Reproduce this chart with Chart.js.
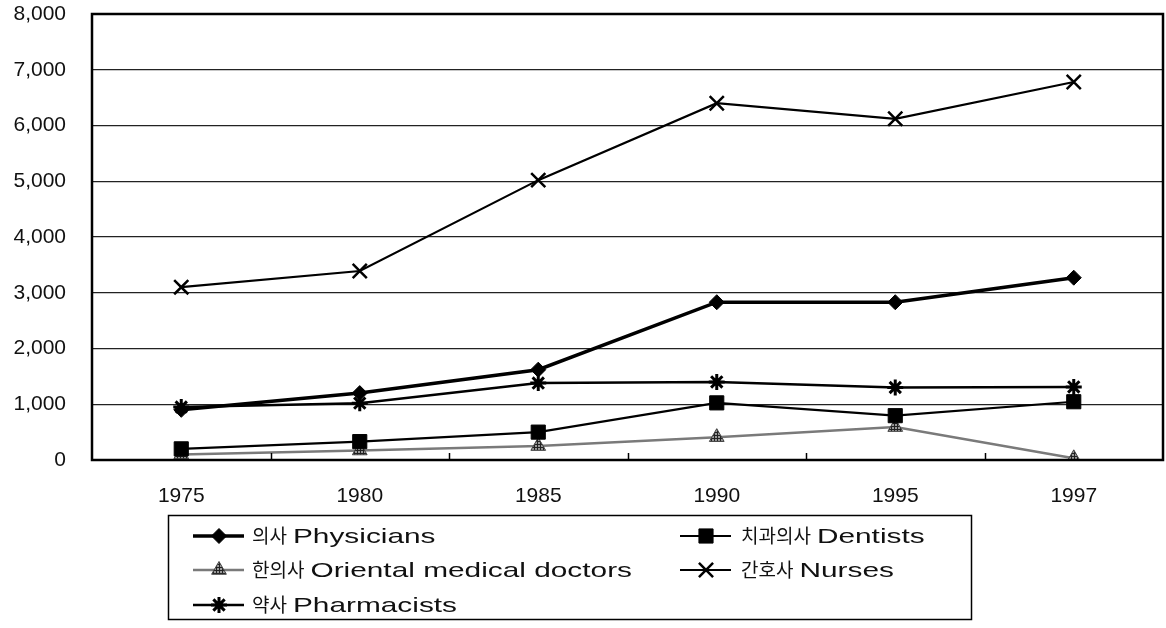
<!DOCTYPE html>
<html>
<head>
<meta charset="utf-8">
<script src="https://cdn.jsdelivr.net/npm/chart.js@4/dist/chart.umd.min.js"></script>
<style>
  html, body { margin: 0; padding: 0; background: #fff; overflow: hidden; }
  #wrap { width: 1166px; height: 628px; position: relative; }
  canvas { display: block; }
</style>
</head>
<body>
<div id="wrap"><canvas id="c" width="1166" height="628" style="width:1166px;height:628px"></canvas></div>
<script>
// ---- data ----
const years = ['1975', '1980', '1985', '1990', '1995', '1997'];
const physicians  = [900, 1200, 1620, 2830, 2830, 3270];
const dentists    = [200, 330, 500, 1025, 795, 1045];
const oriental    = [100, 170, 250, 410, 590, 30];
const nurses      = [3100, 3390, 5020, 6400, 6120, 6780];
const pharmacists = [950, 1020, 1380, 1400, 1300, 1310];
const seriesLabels = ['의사 Physicians', '치과의사 Dentists', '한의사 Oriental medical doctors', '간호사 Nurses', '약사 Pharmacists'];
const yTicks = [0, 1000, 2000, 3000, 4000, 5000, 6000, 7000, 8000];

// hatched fill for triangles
function makePattern() {
  const p = document.createElement('canvas');
  p.width = 3; p.height = 3;
  const g = p.getContext('2d');
  g.fillStyle = '#999'; g.fillRect(0, 0, 3, 3);
  g.fillStyle = '#222'; g.fillRect(0, 0, 3, 1); g.fillRect(0, 0, 1, 3);
  return g.createPattern(p, 'repeat');
}
const hatch = makePattern();

const LATIN = '"Liberation Sans", Arial, sans-serif';
const KOREAN = '"Noto Sans CJK KR", sans-serif';

const datasets = [
  { label: seriesLabels[0], data: physicians, borderColor: '#000', backgroundColor: '#000', borderWidth: 3.5,
    pointStyle: 'rectRot', pointRadius: 7.5, pointBackgroundColor: '#000', pointBorderColor: '#000', pointBorderWidth: 1 },
  { label: seriesLabels[1], data: dentists, borderColor: '#000', backgroundColor: '#000', borderWidth: 2.2,
    pointStyle: 'rect', pointRadius: 10, pointBackgroundColor: '#000', pointBorderColor: '#000', pointBorderWidth: 1 },
  { label: seriesLabels[2], data: oriental, borderColor: '#7a7a7a', backgroundColor: hatch, borderWidth: 2.5,
    pointStyle: 'triangle', pointRadius: 8.5, pointBackgroundColor: hatch, pointBorderColor: '#444', pointBorderWidth: 1 },
  { label: seriesLabels[3], data: nurses, borderColor: '#000', backgroundColor: '#000', borderWidth: 2.2,
    pointStyle: 'crossRot', pointRadius: 10, pointBackgroundColor: '#000', pointBorderColor: '#000', pointBorderWidth: 2.5 },
  { label: seriesLabels[4], data: pharmacists, borderColor: '#000', backgroundColor: '#000', borderWidth: 2.5,
    pointStyle: 'star', pointRadius: 8, pointBackgroundColor: '#000', pointBorderColor: '#000', pointBorderWidth: 3 }
];

const framePlugin = {
  id: 'frame',
  afterDatasetsDraw(chart) {
    const { ctx, chartArea: a, scales } = chart;
    ctx.save();
    ctx.strokeStyle = '#000'; ctx.lineWidth = 1.5;
    const xs = scales.x;
    for (let i = 1; i < years.length; i++) {
      const x = Math.round((xs.getPixelForValue(i - 1) + xs.getPixelForValue(i)) / 2) + 0.5;
      ctx.beginPath(); ctx.moveTo(x, a.bottom); ctx.lineTo(x, a.bottom - 7); ctx.stroke();
    }
    ctx.lineWidth = 2.5;
    ctx.strokeRect(a.left, a.top, a.right - a.left, a.bottom - a.top);
    ctx.restore();
  }
};

const legendPlugin = {
  id: 'customLegend',
  afterDraw(chart) {
    const ctx = chart.ctx;
    ctx.save();
    ctx.strokeStyle = '#000'; ctx.lineWidth = 1.5;
    ctx.strokeRect(168.5, 515.5, 803, 104);
    const cols = [{ lx: 193, tx: 252 }, { lx: 680, tx: 741 }];
    const rows = [536, 570, 605];
    chart.data.datasets.forEach((ds, k) => {
      const col = cols[k % 2], y = rows[Math.floor(k / 2)];
      ctx.strokeStyle = ds.borderColor; ctx.lineWidth = ds.borderWidth;
      ctx.beginPath(); ctx.moveTo(col.lx, y); ctx.lineTo(col.lx + 51, y); ctx.stroke();
      ctx.fillStyle = ds.pointBackgroundColor; ctx.strokeStyle = ds.pointBorderColor;
      ctx.lineWidth = ds.pointBorderWidth;
      const opts = { pointStyle: ds.pointStyle, rotation: 0, radius: ds.pointRadius, borderWidth: ds.pointBorderWidth };
      if (Chart.helpers && Chart.helpers.drawPoint) {
        Chart.helpers.drawPoint(ctx, opts, col.lx + 26, y);
      }
      const sp = ds.label.indexOf(' ');
      const ko = ds.label.slice(0, sp), en = ds.label.slice(sp + 1);
      ctx.fillStyle = '#111';
      ctx.textBaseline = 'middle'; ctx.textAlign = 'left';
      ctx.font = '19px ' + KOREAN;
      ctx.fillText(ko, col.tx, y);
      const kw = ctx.measureText(ko).width;
      ctx.save();
      ctx.translate(col.tx + kw + 6, y + 1);
      ctx.scale(1.42, 1);
      ctx.font = '21px ' + LATIN;
      ctx.fillText(en, 0, 0);
      ctx.restore();
    });
    ctx.restore();
  }
};

new Chart(document.getElementById('c'), {
  type: 'line',
  data: { labels: years, datasets },
  options: {
    responsive: false,
    animation: false,
    layout: { autoPadding: false, padding: { top: 14, right: 3, bottom: 0, left: 0 } },
    plugins: { legend: { display: false }, tooltip: { enabled: false } },
    elements: { line: { tension: 0 } },
    scales: {
      x: {
        offset: true,
        grid: { display: false, offset: true },
        border: { display: false },
        ticks: { color: '#111', font: { family: LATIN, size: 21 }, padding: 16, maxRotation: 0 },
        afterFit(s) { s.height = 168; s.paddingLeft = 0; s.paddingRight = 0; }
      },
      y: {
        min: 0, max: 8000,
        afterBuildTicks(s) { s.ticks = yTicks.map(v => ({ value: v })); },
        grid: { color: '#222', lineWidth: 1.3, drawTicks: false },
        border: { display: false },
        ticks: {
          color: '#111', font: { family: LATIN, size: 21 }, padding: 26,
          callback: v => Number(v).toLocaleString('en-US')
        },
        afterFit(s) { s.width = 92; s.paddingTop = 0; s.paddingBottom = 0; }
      }
    }
  },
  plugins: [framePlugin, legendPlugin]
});
</script>
</body>
</html>
